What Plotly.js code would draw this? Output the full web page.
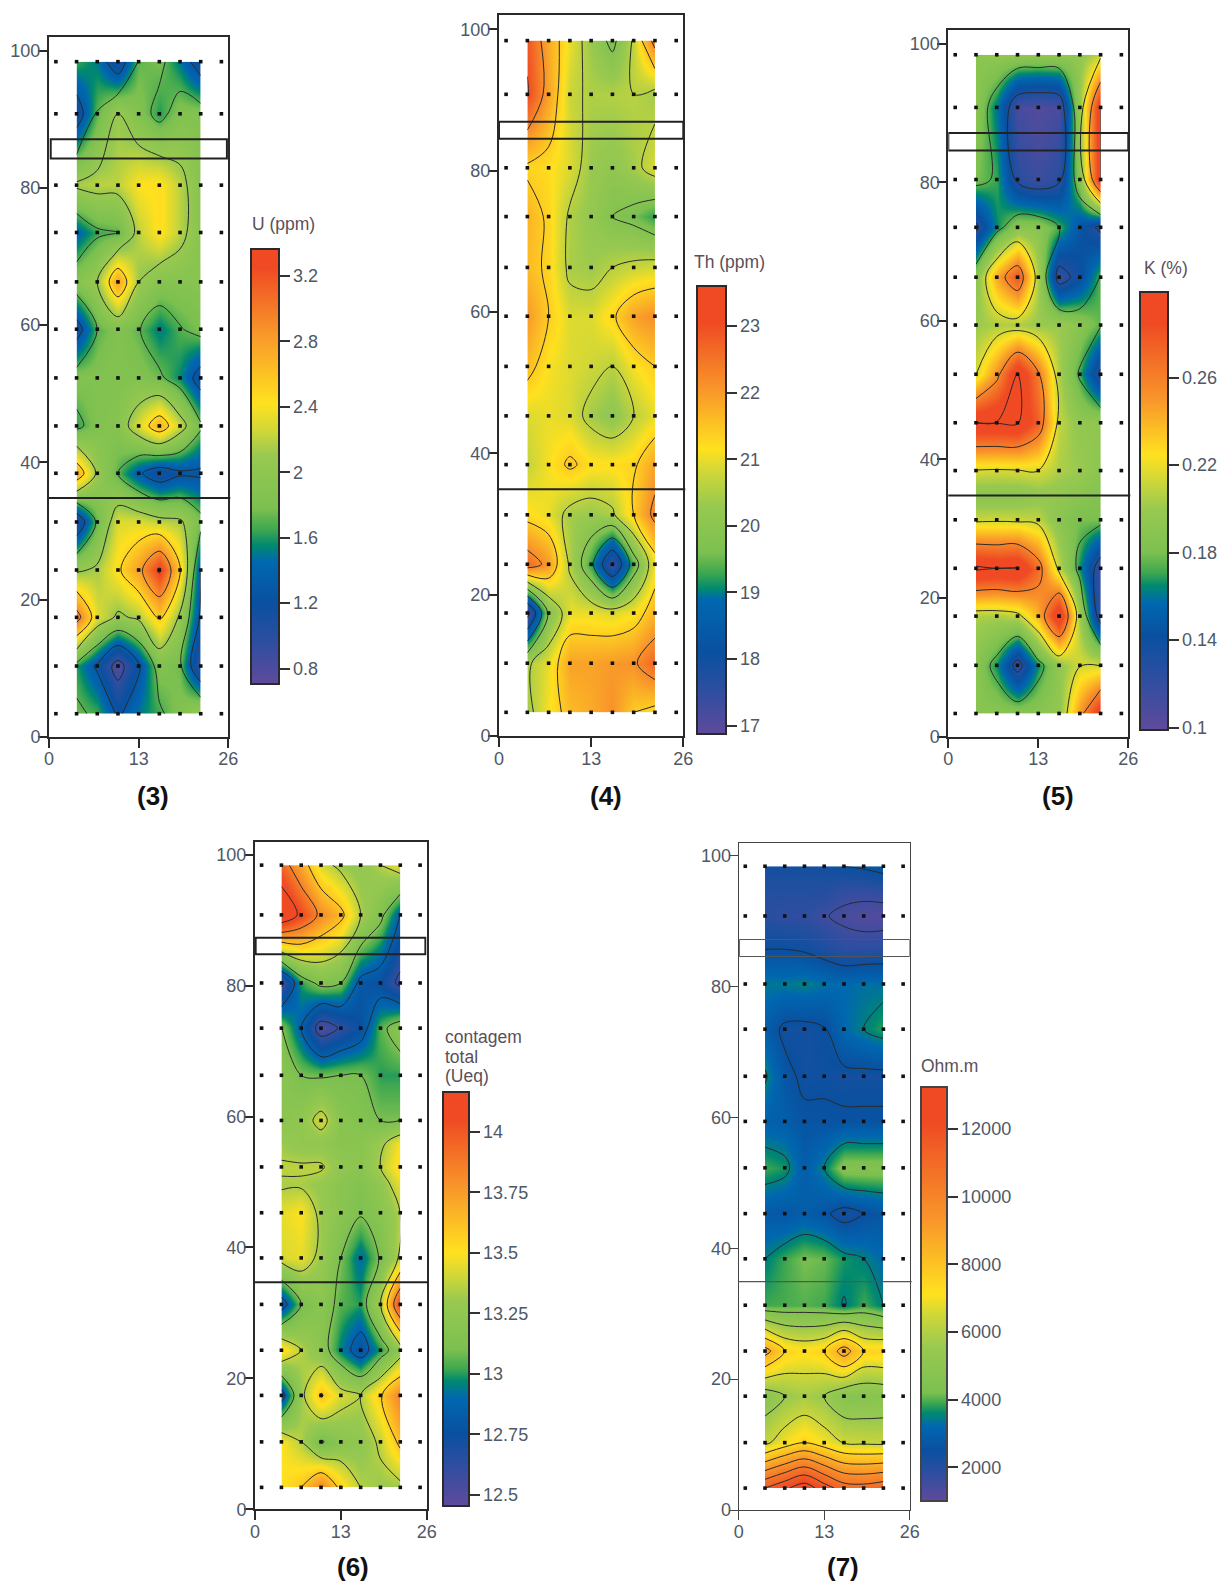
<!DOCTYPE html>
<html>
<head>
<meta charset="utf-8">
<script src="https://cdn.plot.ly/plotly-3.0.1.min.js"></script>
<style>html,body{margin:0;padding:0;background:#fff}#chart{width:1221px;height:1582px}</style>
</head>
<body>
<div id="chart"></div>
<script>
// ---- data ----
const gridX = [4, 7, 10, 13, 16, 19, 22];
const gridY = [3.35, 10.3, 17.4, 24.3, 31.3, 38.4, 45.3, 52.3, 59.4, 66.3, 73.5, 80.4, 90.8, 98.4];
const gridYK = [3.35, 10.3, 17.4, 24.3, 31.3, 34.8, 38.4, 45.3, 52.3, 59.4, 66.3, 73.5, 80.4, 90.8, 98.4];
const gridYTotal = [3.35, 10.3, 17.4, 24.3, 31.3, 38.4, 45.3, 49.5, 52.3, 55.9, 59.4, 66.3, 73.5, 80.4, 90.8, 98.4];
const gridYOhm = [3.35, 10.3, 17.4, 24.3, 31.3, 38.4, 45.3, 52.3, 59.4, 66.3, 73.5, 80.4, 86, 90.8, 94.5, 98.4];
const dotX = [1, 4, 7, 10, 13, 16, 19, 22, 25];

const zU = [
  [1.75, 1.65, 1.25, 1.5, 1.65, 1.85, 2.12],
  [1.6, 1.25, 0.75, 1.25, 1.85, 1.75, 0.9],
  [3.05, 2.3, 2.05, 2.15, 2.55, 2.05, 1.25],
  [2.05, 2.15, 2.45, 2.8, 3.35, 2.55, 1.3],
  [1.0, 1.75, 2.3, 2.3, 2.2, 2.15, 1.8],
  [2.75, 2.05, 1.7, 1.35, 1.1, 1.25, 1.25],
  [1.62, 1.85, 1.9, 2.3, 2.7, 2.25, 1.75],
  [1.85, 1.85, 1.85, 1.85, 1.75, 1.55, 1.15],
  [1.15, 1.7, 1.85, 1.72, 1.5, 1.68, 1.8],
  [1.9, 2.1, 2.8, 2.1, 1.9, 1.9, 1.9],
  [1.4, 1.65, 1.7, 2.2, 2.45, 2.2, 1.9],
  [2.15, 2.2, 2.2, 2.42, 2.45, 2.2, 1.9],
  [1.1, 1.72, 2.1, 1.85, 1.6, 1.85, 1.85],
  [1.65, 1.5, 1.05, 1.72, 1.78, 1.5, 1.1]
];
const zTh = [
  [20.4, 21.1, 21.6, 21.8, 22.1, 21.4, 21.2],
  [20.5, 21.0, 21.9, 21.9, 22.0, 22.1, 22.7],
  [17.1, 19.9, 21.0, 21.0, 20.9, 21.1, 21.7],
  [22.6, 22.0, 20.5, 19.2, 17.3, 19.4, 21.1],
  [21.2, 21.0, 20.4, 20.3, 20.5, 21.4, 22.4],
  [20.7, 21.1, 21.5, 21.2, 21.2, 21.3, 21.9],
  [20.9, 21.0, 20.9, 20.4, 20.1, 20.6, 21.0],
  [21.6, 21.1, 20.9, 20.8, 20.6, 21.1, 21.4],
  [22.0, 21.4, 20.9, 20.9, 21.3, 21.9, 22.15],
  [21.6, 21.3, 20.45, 20.35, 20.6, 20.75, 20.85],
  [21.7, 21.3, 20.5, 20.2, 19.8, 19.6, 19.2],
  [21.3, 21.2, 20.9, 20.3, 20.1, 20.4, 20.9],
  [23.05, 21.9, 20.75, 20.5, 20.55, 20.6, 20.4],
  [22.9, 21.8, 21.0, 20.3, 19.6, 20.7, 22.5]
];
const zK = [
  [0.19, 0.19, 0.19, 0.19, 0.195, 0.25, 0.302],
  [0.19, 0.165, 0.12, 0.165, 0.195, 0.215, 0.215],
  [0.205, 0.205, 0.21, 0.24, 0.305, 0.2, 0.115],
  [0.306, 0.302, 0.305, 0.27, 0.21, 0.165, 0.115],
  [0.212, 0.213, 0.212, 0.21, 0.19, 0.18, 0.18],
  [0.19, 0.19, 0.19, 0.195, 0.195, 0.19, 0.185],
  [0.215, 0.214, 0.215, 0.216, 0.205, 0.2, 0.19],
  [0.303, 0.303, 0.304, 0.275, 0.21, 0.195, 0.195],
  [0.215, 0.252, 0.303, 0.262, 0.205, 0.17, 0.125],
  [0.2, 0.205, 0.205, 0.2, 0.2, 0.19, 0.175],
  [0.19, 0.245, 0.28, 0.205, 0.118, 0.14, 0.175],
  [0.125, 0.165, 0.19, 0.19, 0.173, 0.145, 0.125],
  [0.18, 0.17, 0.125, 0.115, 0.125, 0.19, 0.305],
  [0.19, 0.16, 0.11, 0.105, 0.11, 0.2, 0.305],
  [0.19, 0.195, 0.195, 0.195, 0.195, 0.195, 0.21]
];
const zTotal = [
  [13.5, 13.6, 13.85, 13.55, 13.35, 13.3, 13.3],
  [13.5, 13.35, 13.08, 13.2, 13.25, 13.38, 13.65],
  [12.75, 13.3, 13.62, 13.42, 13.35, 13.58, 13.85],
  [13.55, 13.35, 13.2, 12.95, 12.75, 13.0, 13.25],
  [12.75, 13.1, 13.2, 13.05, 13.0, 13.35, 14.1],
  [13.42, 13.45, 13.3, 13.1, 12.9, 13.12, 13.38],
  [13.45, 13.5, 13.3, 13.2, 13.12, 13.2, 13.35],
  [13.33, 13.33, 13.28, 13.2, 13.15, 13.25, 13.45],
  [13.37, 13.37, 13.37, 13.25, 13.2, 13.35, 13.55],
  [13.3, 13.25, 13.25, 13.2, 13.2, 13.3, 13.5],
  [13.2, 13.25, 13.42, 13.2, 13.15, 13.1, 13.1],
  [13.2, 13.1, 13.08, 13.1, 13.1, 13.0, 13.0],
  [13.12, 12.85, 12.5, 12.62, 12.75, 13.05, 13.2],
  [12.55, 13.0, 13.15, 13.1, 12.8, 12.75, 12.55],
  [14.3, 14.05, 13.8, 13.65, 13.35, 13.15, 12.85],
  [13.95, 13.7, 13.42, 13.3, 13.25, 13.35, 13.45]
];
const zOhm = [
  [11500, 12300, 13100, 12000, 11000, 10900, 11200],
  [6300, 7000, 7500, 7000, 6450, 6350, 6300],
  [4900, 5500, 5800, 5500, 4700, 4700, 4800],
  [8900, 7500, 7200, 7500, 9000, 7500, 7500],
  [3900, 3950, 4000, 3900, 3450, 3900, 3500],
  [3500, 3900, 4200, 4100, 3700, 3500, 3200],
  [2800, 2700, 2900, 2650, 2200, 2520, 2700],
  [3900, 3700, 2900, 3500, 4480, 4480, 4480],
  [3000, 2900, 2650, 2600, 2600, 2600, 2600],
  [3600, 2700, 2350, 2400, 2300, 2300, 2300],
  [2900, 2350, 2300, 2450, 3200, 3500, 3800],
  [3400, 3400, 3480, 3300, 3200, 3300, 3300],
  [2450, 2450, 2350, 2100, 1800, 1800, 1850],
  [1900, 1800, 1800, 1550, 1350, 1200, 1200],
  [2000, 2000, 2000, 2000, 1700, 1700, 1750],
  [2300, 2300, 2300, 2300, 2500, 2600, 2800]
];

const palette = ['#5f4a9c', '#2f4ea0', '#0a50a0', '#0068b0', '#00896f', '#3fa84f', '#7cc050', '#98c950', '#cfd738', '#ffe11f', '#f8962a', '#ef4a23'];

const panels = [
  {name:'(3)', y:gridY, z:zU, zmin:0.704, zmax:3.363, stops:[0.704,0.95,1.2,1.45,1.55,1.65,1.78,2.1,2.25,2.42,2.85,3.25],
   lev:[0.9,3.3,0.4], ticks:[0.8,1.2,1.6,2,2.4,2.8,3.2], tickText:['0.8','1.2','1.6','2','2.4','2.8','3.2'],
   L:49, R:228.3, T:36.7, B:736.7, yTop:102.04, box:[84.3,87.1], boxX:[0.25,25.8], lineY:34.8,
   bar:[250.7,278.3,249.3,684], barTitle:['U (ppm)'], tx:250, ty:[224], lx:153, ly:796, w:2},
  {name:'(4)', y:gridY, z:zTh, zmin:16.875, zmax:23.6, stops:[16.875,17.5,18.1,18.9,19.05,19.3,19.6,20.3,20.8,21.15,22.05,23.05],
   lev:[17.4,23,0.8], ticks:[17,18,19,20,21,22,23], tickText:['17','18','19','20','21','22','23'],
   L:499, R:683.3, T:15.3, B:736, yTop:101.98, box:[84.5,86.9], boxX:[0,26], lineY:34.9,
   bar:[697,726,286,734], barTitle:['Th (ppm)'], tx:691.7, ty:[262], lx:605.7, ly:796, w:2},
  {name:'(5)', y:gridYK, z:zK, zmin:0.099, zmax:0.2993, stops:[0.099,0.122,0.142,0.157,0.165,0.171,0.18,0.2,0.213,0.225,0.25,0.285],
   lev:[0.13,0.302,0.043], ticks:[0.1,0.14,0.18,0.22,0.26], tickText:['0.1','0.14','0.18','0.22','0.26'],
   L:948.3, R:1128.3, T:30.3, B:736.7, yTop:101.93, box:[84.6,87.1], boxX:[0,26], lineY:34.8,
   bar:[1140,1167.7,291.7,730], barTitle:['K (%)'], tx:1141.7, ty:[268], lx:1057.7, ly:796, w:2},
  {name:'(6)', y:gridYTotal, z:zTotal, zmin:12.453, zmax:14.163, stops:[12.453,12.62,12.75,12.9,12.97,13.02,13.1,13.3,13.4,13.5,13.77,14.05],
   lev:[12.6,14.1,0.25], ticks:[12.5,12.75,13,13.25,13.5,13.75,14], tickText:['12.5','12.75','13','13.25','13.5','13.75','14'],
   L:255, R:426.7, T:842.3, B:1509.3, yTop:101.89, box:[84.8,87.3], boxX:[0.1,25.8], lineY:34.7,
   bar:[443.3,469.3,1092.3,1506], barTitle:['contagem','total','(Ueq)'], tx:443, ty:[1037,1057,1076], lx:353.3, ly:1566.7, w:2},
  {name:'(7)', y:gridYOhm, z:zOhm, zmin:996, zmax:13231, stops:[996,1800,2500,3200,3600,3900,4200,5500,6500,7100,9300,12200],
   lev:[1500,13500,1000], ticks:[2000,4000,6000,8000,10000,12000], tickText:['2000','4000','6000','8000','10000','12000'],
   L:738.7, R:909.7, T:842.7, B:1510, yTop:102.0, box:[84.6,87.2], boxX:[0.1,26], lineY:34.9,
   bar:[921.3,947.7,1087.3,1501.7], barTitle:['Ohm.m'], tx:919, ty:[1065.7], lx:843, ly:1566.7, w:1}
];

// ---- build figure ----
const W = 1221, H = 1582;
const fx = p => p / W, fy = p => 1 - p / H;
const tickFont = {family:'"Liberation Sans", Arial, sans-serif', size:18, color:'#4f5866'};
const traces = [], shapes = [], annotations = [];
const layout = {width:W, height:H, margin:{l:0,r:0,t:0,b:0,pad:0,autoexpand:false}, paper_bgcolor:'#fff', plot_bgcolor:'#fff',
  showlegend:false, shapes, annotations};
const dotsX = [], dotsY = [];
gridY.forEach(y => dotX.forEach(x => { dotsX.push(x); dotsY.push(y); }));

panels.forEach((p, i) => {
  const sfx = i === 0 ? '' : String(i + 1);
  const xa = 'x' + sfx, ya = 'y' + sfx;
  const lineCol = p.w === 1 ? '#444' : '#2a2a2a';
  const axis = {showline:true, mirror:true, linecolor:lineCol, linewidth:p.w, ticks:'outside', tickcolor:lineCol, tickwidth:p.w,
    ticklen:9, showgrid:false, zeroline:false, tickfont:tickFont, fixedrange:true};
  layout['xaxis' + sfx] = Object.assign({}, axis, {domain:[fx(p.L), fx(p.R)], range:[0,26], tickmode:'array', tickvals:[0,13,26], anchor:ya, ticklabelstandoff:-4});
  layout['yaxis' + sfx] = Object.assign({}, axis, {domain:[fy(p.B), fy(p.T)], range:[0,p.yTop], tickmode:'array', tickvals:[0,20,40,60,80,100], anchor:xa, ticklabelstandoff:-6});
  const span = p.zmax - p.zmin;
  const colorscale = p.stops.map((v, k) => [k === 0 ? 0 : (v - p.zmin) / span, palette[k]]);
  colorscale.push([1, palette[palette.length - 1]]);
  // smooth colour field with its colour bar
  traces.push({type:'contour', x:gridX, y:p.y, z:p.z, xaxis:xa, yaxis:ya, zauto:false, zmin:p.zmin, zmax:p.zmax, colorscale,
    autocontour:false, contours:{coloring:'heatmap', start:p.lev[0], end:p.lev[1], size:p.lev[2], showlines:false, showlabels:false},
    line:{width:0, color:'rgba(0,0,0,0)'}, hoverinfo:'skip',
    colorbar:{x:fx(p.bar[0]), xanchor:'left', y:fy(p.bar[2]), yanchor:'top', yref:'paper', xref:'paper',
      lenmode:'pixels', len:p.bar[3]-p.bar[2], thicknessmode:'pixels', thickness:p.bar[1]-p.bar[0], xpad:0, ypad:0,
      outlinecolor:lineCol, outlinewidth:2, borderwidth:0, ticks:'outside', ticklen:10, tickwidth:2, tickcolor:'#333',
      tickmode:'array', tickvals:p.ticks, ticktext:p.tickText, tickfont:tickFont, ticklabelstandoff:-2}});
  // isolines on top
  traces.push({type:'contour', x:gridX, y:p.y, z:p.z, xaxis:xa, yaxis:ya, showscale:false, autocontour:false,
    contours:{coloring:'none', start:p.lev[0], end:p.lev[1], size:p.lev[2], showlines:true, showlabels:false},
    line:{color:'#2a2a2a', width:1, smoothing:1}, hoverinfo:'skip'});
  traces.push({type:'scatter', mode:'markers', x:dotsX, y:dotsY, xaxis:xa, yaxis:ya, hoverinfo:'skip', cliponaxis:false,
    marker:{symbol:'square', size:3.6, color:'#111', line:{width:0}}});
  shapes.push({type:'rect', xref:xa, yref:ya, x0:p.boxX[0], x1:p.boxX[1], y0:p.box[0], y1:p.box[1], layer:'above', line:{color:p.w===1?'#555':'#222', width:p.w===1?1:2}});
  shapes.push({type:'line', xref:'paper', yref:ya, x0:fx(p.L), x1:fx(p.R+2), y0:p.lineY, y1:p.lineY, layer:'above', line:{color:p.w===1?'#555':'#222', width:p.w===1?1.2:2}});
  p.barTitle.forEach((t, k) => annotations.push({xref:'paper', yref:'paper', x:fx(p.tx), y:fy(p.ty[k]), xanchor:'left', yanchor:'middle',
    showarrow:false, text:t, align:'left', font:{family:'"Liberation Sans", Arial, sans-serif', size:17.5, color:'#5b4f58'}}));
  annotations.push({xref:'paper', yref:'paper', x:fx(p.lx), y:fy(p.ly), xanchor:'center', yanchor:'middle', showarrow:false,
    text:'<b>' + p.name + '</b>', font:{family:'"Liberation Sans Narrow", "Liberation Sans", sans-serif', size:26, color:'#111'}});
});

Plotly.newPlot('chart', traces, layout, {displayModeBar:false, responsive:false});
</script>
</body>
</html>
